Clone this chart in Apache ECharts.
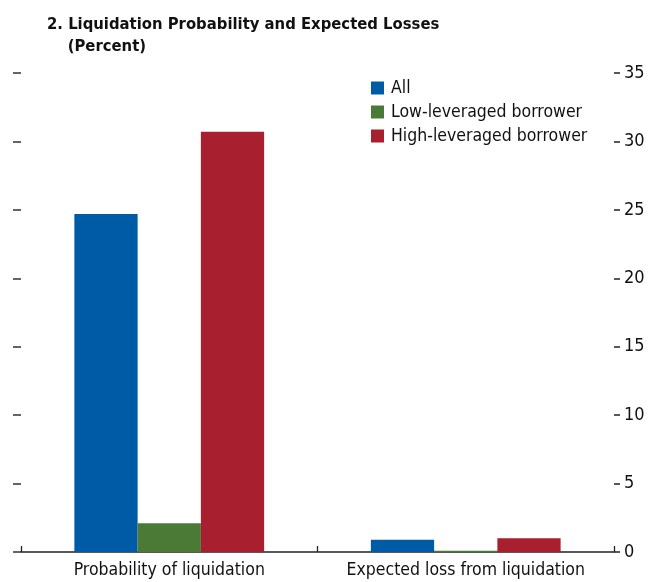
<!DOCTYPE html>
<html><head><meta charset="utf-8">
<script src="https://cdn.jsdelivr.net/npm/echarts@6/dist/echarts.min.js"></script>
<style>html,body{margin:0;padding:0;background:#fff}#c{width:649px;height:582px}</style>
</head><body><div id="c"></div>
<script>
const categories = ['Probability of liquidation', 'Expected loss from liquidation'];
const seriesNames = ['All', 'Low-leveraged borrower', 'High-leveraged borrower'];
const allValues = [24.7, 0.9];
const lowValues = [2.1, 0.1];
const highValues = [30.7, 1.0];
const colors = ['#005BA6', '#4A7A35', '#A81F2F'];
const yTicks = [0, 5, 10, 15, 20, 25, 30, 35];

const FONT = '"DejaVu Sans Condensed","Liberation Sans",sans-serif';
const chart = echarts.init(document.getElementById('c'));
const values = [allValues, lowValues, highValues];
chart.setOption({
  animation: false,
  title: {
    text: '2. Liquidation Probability and Expected Losses\n    (Percent)',
    left: 42, top: 9,
    textStyle: { fontFamily: FONT, fontWeight: 'bold', fontSize: 16.5, color: '#111', lineHeight: 22 }
  },
  legend: {
    orient: 'vertical', left: 366, top: 74,
    itemWidth: 13, itemHeight: 13, itemGap: 6,
    icon: 'rect',
    textStyle: { fontFamily: FONT, fontSize: 17.5, color: '#111', padding: [0, 0, 0, 2] },
    data: seriesNames
  },
  grid: { left: 21, right: 35, top: 73, bottom: 30 },
  xAxis: {
    type: 'category', data: categories,
    axisLine: { lineStyle: { color: '#222', width: 1.5 } },
    axisTick: { show: true, inside: true, length: 6, lineStyle: { color: '#222', width: 1.3 } },
    axisLabel: { fontFamily: FONT, fontSize: 17.5, color: '#111', margin: 9, interval: 0 }
  },
  yAxis: [
    {
      type: 'value', min: 0, max: 35, interval: 5, position: 'left',
      axisLine: { show: false },
      axisTick: { show: true, length: 8, lineStyle: { color: '#333', width: 1.5 } },
      axisLabel: { show: false },
      splitLine: { show: false }
    },
    {
      type: 'value', min: 0, max: 35, interval: 5, position: 'right',
      axisLine: { show: false },
      axisTick: { show: true, length: 6, lineStyle: { color: '#222', width: 1.5 } },
      axisLabel: { fontFamily: FONT, fontSize: 18, color: '#111', margin: 10,
        formatter: v => yTicks.includes(v) ? String(v) : '' },
      splitLine: { show: false }
    }
  ],
  series: seriesNames.map((n, i) => ({
    name: n, type: 'bar', data: values[i], yAxisIndex: 1,
    itemStyle: { color: colors[i] },
    barGap: '0%', barCategoryGap: '36%'
  }))
});
</script></body></html>
